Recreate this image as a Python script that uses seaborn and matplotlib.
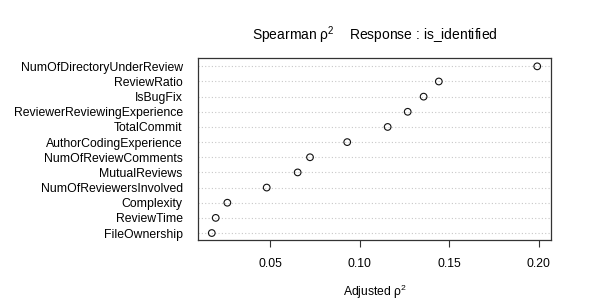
import matplotlib
matplotlib.use("Agg")
import matplotlib.pyplot as plt
import seaborn as sns
import pandas as pd

predictors = [
    "NumOfDirectoryUnderReview", "ReviewRatio", "IsBugFix",
    "ReviewerReviewingExperience", "TotalCommit", "AuthorCodingExperience",
    "NumOfReviewComments", "MutualReviews", "NumOfReviewersInvolved",
    "Complexity", "ReviewTime", "FileOwnership",
]
rho2 = [0.1992, 0.1442, 0.1357, 0.1268, 0.1156, 0.0930,
        0.0722, 0.0653, 0.0480, 0.0260, 0.0195, 0.0173]
xticks = [0.05, 0.10, 0.15, 0.20]
xtick_labels = ["0.05", "0.10", "0.15", "0.20"]

df = pd.DataFrame({"predictor": predictors, "rho2": rho2})

sns.set_theme(style="white")
plt.rcParams["font.family"] = ["Liberation Sans", "DejaVu Sans"]
plt.rcParams["mathtext.fontset"] = "custom"
plt.rcParams["mathtext.rm"] = "Liberation Sans"
plt.rcParams["mathtext.it"] = "Liberation Sans"

fig = plt.figure(figsize=(5.98, 3.0), dpi=100)
ax = fig.add_axes([198/598, 1-240/300, (551-198)/598, (240-58)/300])

for i in range(len(predictors)):
    ax.axhline(i, color="#c8c8c8", lw=0.8, ls=(0, (1, 2)), zorder=0)

sns.stripplot(data=df, x="rho2", y="predictor", order=predictors, orient="h",
              jitter=False, ax=ax, marker="o", size=4.8,
              facecolor="none", edgecolor="black", linewidth=0.8, color="black")
for c in ax.collections:
    c.set_facecolor("none")
    c.set_edgecolor("#111111")
    c.set_linewidth(0.8)

ax.set_xlim(0.0096, 0.2069)
ax.set_ylim(len(predictors) - 1 + 0.46, -0.55)
ax.set_xticks(xticks)
ax.set_xticklabels(xtick_labels, fontsize=8.7)
ax.tick_params(axis="x", direction="out", length=5, width=0.8, color="#333333",
               bottom=True, pad=8)
ax.tick_params(axis="y", length=0, pad=11, labelsize=8.8)
for t in ax.get_yticklabels():
    t.set_color("black")
for t in ax.get_xticklabels():
    t.set_color("black")
for s in ax.spines.values():
    s.set_visible(True)
    s.set_color("#333333")
    s.set_linewidth(0.9)
ax.set_ylabel("")
ax.set_xlabel("Adjusted ρ$^2$", fontsize=8.7, labelpad=9, color="black")
ax.set_title("Spearman ρ$^2$    Response : is_identified", fontsize=10, pad=13,
             color="black")

fig.savefig("out.png", dpi=100)
